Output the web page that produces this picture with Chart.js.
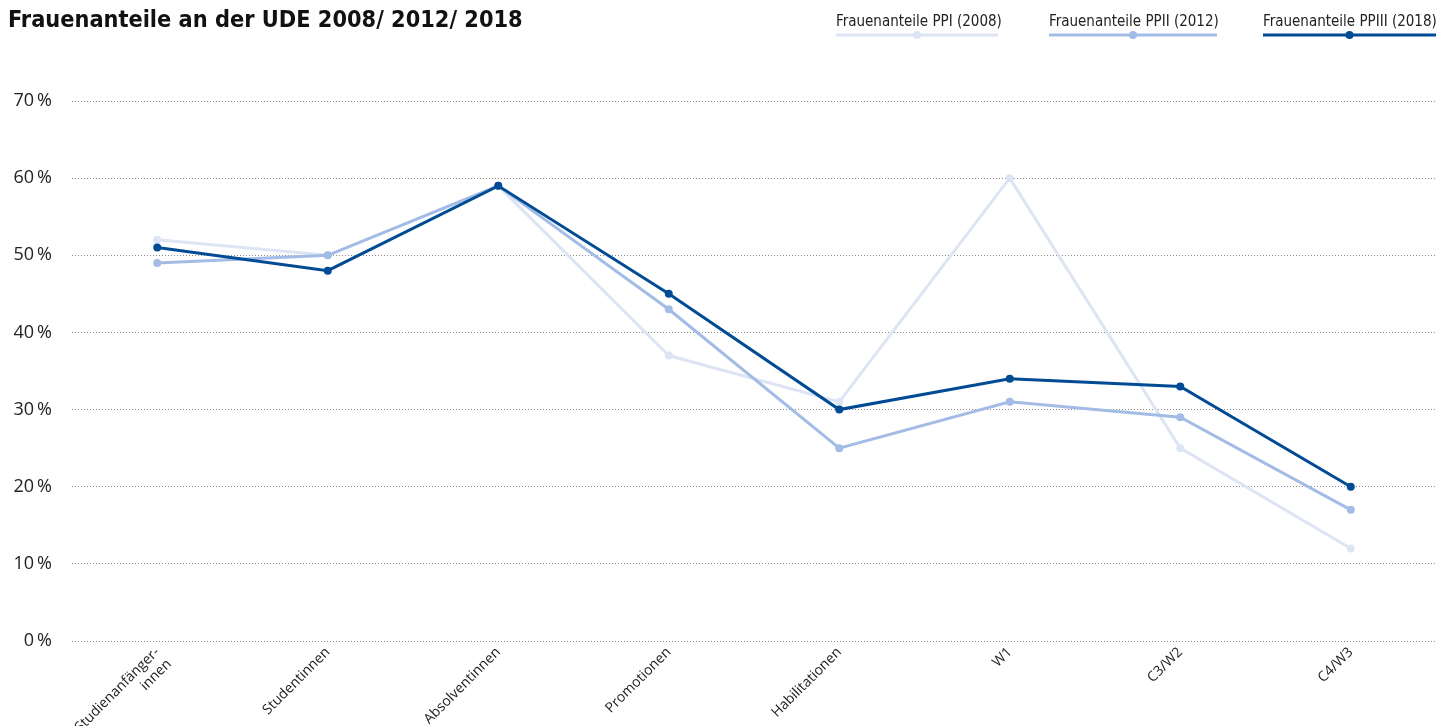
<!DOCTYPE html>
<html>
<head>
<meta charset="utf-8">
<script src="https://cdn.jsdelivr.net/npm/chart.js@4/dist/chart.umd.min.js"></script>
<style>
html,body{margin:0;padding:0;background:#fff;}
#wrap{position:relative;width:1436px;height:726px;}
</style>
</head>
<body>
<div id="wrap"><canvas id="c" width="1436" height="726"></canvas></div>
<script>
const titleText = "Frauenanteile an der UDE 2008/ 2012/ 2018";
const categories = [["Studienanfänger-", "innen"], "Studentinnen", "Absolventinnen", "Promotionen", "Habilitationen", "W1", "C3/W2", "C4/W3"];
const seriesNames = ["Frauenanteile PPI (2008)", "Frauenanteile PPII (2012)", "Frauenanteile PPIII (2018)"];
const ppi2008 = [52, 50, 59, 37, 31, 60, 25, 12];
const ppii2012 = [49, 50, 59, 43, 25, 31, 29, 17];
const ppiii2018 = [51, 48, 59, 45, 30, 34, 33, 20];
const yTicks = [0, 10, 20, 30, 40, 50, 60, 70];
const colors = ["#dde4f4", "#a2bce6", "#004b93"];

const FONT = '"Liberation Sans Narrow", "DejaVu Sans Condensed", "Open Sans", sans-serif';
const TICKFONT = '"Open Sans", "Noto Sans", sans-serif';

const headerPlugin = {
  id: 'header',
  afterDraw(chart) {
    const ctx = chart.ctx;
    ctx.save();
    ctx.fillStyle = '#111';
    ctx.font = 'bold 23.3px ' + FONT;
    ctx.textBaseline = 'alphabetic';
    ctx.textAlign = 'left';
    ctx.fillText(titleText, 8, 27);
    const items = [
      {x0: 836, x1: 998},
      {x0: 1049, x1: 1217},
      {x0: 1263, x1: 1436}
    ];
    ctx.font = '15px ' + FONT;
    items.forEach((it, i) => {
      ctx.fillStyle = '#222';
      ctx.fillText(seriesNames[i], it.x0, 26);
      ctx.strokeStyle = colors[i];
      ctx.lineWidth = 3;
      ctx.beginPath();
      ctx.moveTo(it.x0, 35);
      ctx.lineTo(it.x1, 35);
      ctx.stroke();
      ctx.fillStyle = colors[i];
      ctx.beginPath();
      ctx.arc((it.x0 + it.x1) / 2, 35, 4, 0, Math.PI * 2);
      ctx.fill();
    });
    ctx.restore();
  }
};

const data = [ppi2008, ppii2012, ppiii2018];
new Chart(document.getElementById('c'), {
  type: 'line',
  data: {
    labels: categories,
    datasets: data.map((d, i) => ({
      label: seriesNames[i],
      data: d,
      borderColor: colors[i],
      backgroundColor: colors[i],
      pointBackgroundColor: colors[i],
      pointBorderColor: colors[i],
      borderWidth: 3,
      pointRadius: 4,
      pointBorderWidth: 0,
      tension: 0,
      order: 2 - i
    }))
  },
  options: {
    responsive: false,
    animation: false,
    events: [],
    layout: { autoPadding: false, padding: { top: 101, right: 0, left: 0, bottom: 0 } },
    plugins: {
      legend: { display: false },
      title: { display: false },
      tooltip: { enabled: false }
    },
    scales: {
      x: {
        offset: true,
        grid: { display: false },
        border: { display: false },
        ticks: {
          color: '#222',
          font: { family: TICKFONT, size: 14 },
          minRotation: 45,
          maxRotation: 45,
          autoSkip: false,
          padding: -5
        },
        afterFit(scale) { scale.height = 85; scale.paddingLeft = 0; scale.paddingRight = 0; }
      },
      y: {
        min: 0,
        max: 70,
        afterBuildTicks(scale) { scale.ticks = yTicks.map(v => ({ value: v })); },
        grid: {
          color: '#8a8a8a',
          lineWidth: 1,
          drawTicks: false
        },
        border: { display: false, dash: [1, 2] },
        ticks: {
          color: '#222',
          font: { family: TICKFONT, size: 18 },
          padding: 20,
          callback: v => v + '\u2009%'
        },
        afterFit(scale) { scale.width = 72; scale.paddingTop = 0; scale.paddingBottom = 0; }
      }
    }
  },
  plugins: [headerPlugin]
});
</script>
</body>
</html>
